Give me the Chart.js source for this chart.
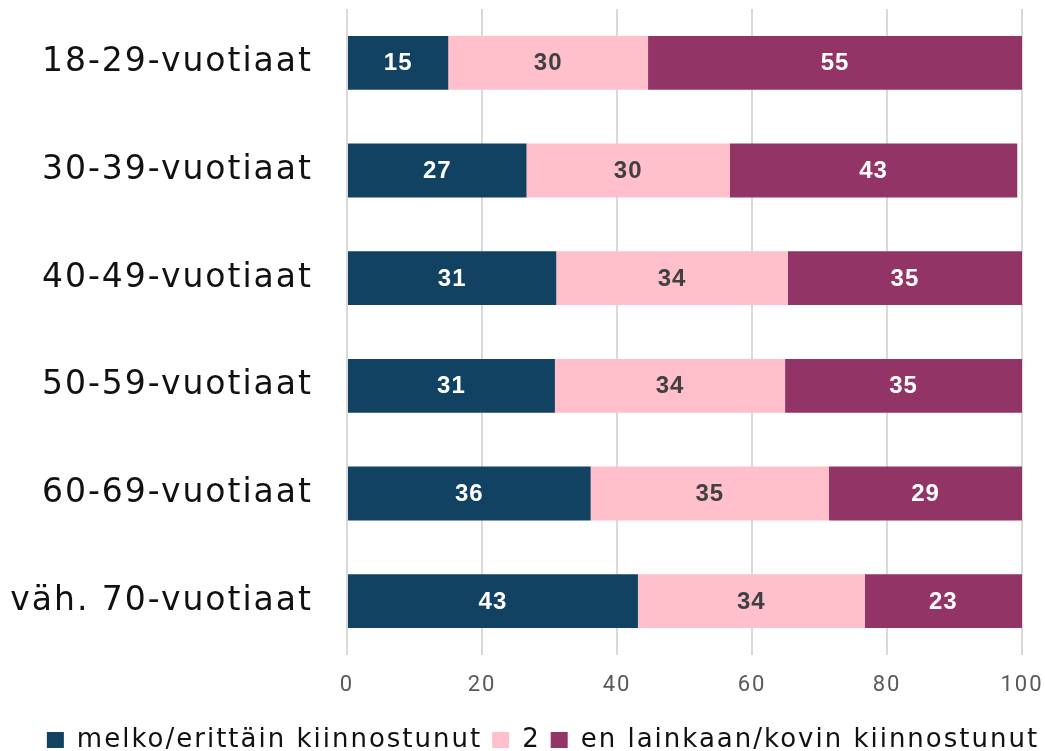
<!DOCTYPE html>
<html><head><meta charset="utf-8">
<script src="https://cdn.jsdelivr.net/npm/chart.js@4/dist/chart.umd.min.js"></script>
<style>html,body{margin:0;padding:0;background:#fff}#wrap{width:1045px;height:751px;position:relative}</style>
</head><body><div id="wrap"><canvas id="c" width="1045" height="751"></canvas></div>
<script>
const categories = ['18-29-vuotiaat','30-39-vuotiaat','40-49-vuotiaat','50-59-vuotiaat','60-69-vuotiaat','väh. 70-vuotiaat'];
const seriesNames = ['melko/erittäin kiinnostunut','2','en lainkaan/kovin kiinnostunut'];
const interested = [15.0, 26.6, 31.0, 30.8, 36.1, 43.1];
const neutral = [29.6, 30.1, 34.3, 34.1, 35.3, 33.6];
const notInterested = [55.4, 42.6, 34.7, 35.1, 28.6, 23.3];
const xTicks = [0, 20, 40, 60, 80, 100];
const colors = ['#124262', '#FFC0CB', '#933466'];
const labelColors = ['#ffffff', '#404040', '#ffffff'];

const FONT = "'DejaVu Sans', sans-serif";

const spacing = {
  id: 'spacing',
  beforeLayout(chart) { chart.ctx.letterSpacing = '2px'; },
  beforeDraw(chart) { chart.ctx.letterSpacing = '2px'; },
  afterLayout(chart) {
    const lg = chart.legend;
    if (lg) { lg.left += 32; lg.right += 32; }
  }
};

const valueLabels = {
  id: 'valueLabels',
  afterDatasetsDraw(chart) {
    const ctx = chart.ctx;
    ctx.save();
    ctx.letterSpacing = '1px';
    ctx.font = "bold 24px 'Liberation Sans', Arial, sans-serif";
    ctx.textAlign = 'center';
    ctx.textBaseline = 'middle';
    chart.data.datasets.forEach((ds, i) => {
      const meta = chart.getDatasetMeta(i);
      meta.data.forEach((el, j) => {
        const v = ds.data[j];
        ctx.fillStyle = labelColors[i];
        ctx.fillText(String(Math.round(v)), (el.x + el.base) / 2, el.y + 1);
      });
    });
    ctx.restore();
  }
};

new Chart(document.getElementById('c'), {
  type: 'bar',
  data: {
    labels: categories,
    datasets: [
      { label: seriesNames[0], data: interested, backgroundColor: colors[0] },
      { label: seriesNames[1], data: neutral, backgroundColor: colors[1] },
      { label: seriesNames[2], data: notInterested, backgroundColor: colors[2] }
    ]
  },
  options: {
    indexAxis: 'y',
    responsive: false,
    animation: false,
    devicePixelRatio: 1,
    categoryPercentage: 1,
    barPercentage: 0.5,
    layout: { padding: { top: 9, right: 23, left: 0, bottom: -12 } },
    scales: {
      x: {
        stacked: true,
        min: 0, max: 100,
        afterBuildTicks(scale) { scale.ticks = xTicks.map(v => ({ value: v })); },
        afterFit(scale) { scale.paddingLeft = 0; scale.paddingRight = 0; scale.height = 62; },
        grid: { color: '#d9d9d9', lineWidth: 2, drawTicks: false },
        border: { display: false },
        ticks: { color: '#595959', padding: 17, font: { family: "Roboto, sans-serif", size: 22 } }
      },
      y: {
        stacked: true,
        grid: { display: false, drawTicks: false },
        border: { display: false },
        afterFit(scale) { scale.width = 347; scale.paddingTop = 0; scale.paddingBottom = 0; },
        ticks: { color: '#111111', padding: 34, font: { family: FONT, size: 33 } }
      }
    },
    plugins: {
      legend: {
        position: 'bottom',
        labels: {
          color: '#111111',
          font: { family: FONT, size: 26 },
          boxWidth: 17, boxHeight: 16,
          padding: 10
        }
      },
      tooltip: { enabled: false }
    }
  },
  plugins: [spacing, valueLabels]
});
</script>
</body></html>
